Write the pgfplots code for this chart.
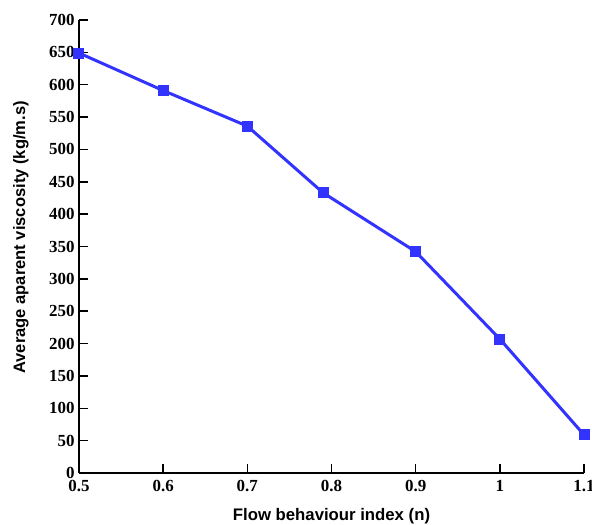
\documentclass[border=0pt]{standalone}
\usepackage{fontspec}
\setmainfont{Liberation Serif}
\newfontfamily\labelfont{Liberation Sans}
\usepackage{pgfplots}
\pgfplotsset{compat=1.18}
\definecolor{lineblue}{RGB}{51,51,255}
\begin{document}
\begin{tikzpicture}
\begin{axis}[
  scale only axis,
  width=505bp, height=453bp,
  xmin=0.5, xmax=1.1, ymin=0, ymax=700,
  axis x line*=bottom, axis y line*=left,
  axis line style={line width=1.8bp, -},
  xtick={0.5,0.6,0.7,0.8,0.9,1,1.1},
  xticklabels={\textbf{0.5},\textbf{0.6},\textbf{0.7},\textbf{0.8},\textbf{0.9},\textbf{1},\textbf{1.1}},
  ytick={0,50,100,150,200,250,300,350,400,450,500,550,600,650,700},
  yticklabels={\textbf{0},\textbf{50},\textbf{100},\textbf{150},\textbf{200},\textbf{250},\textbf{300},\textbf{350},\textbf{400},\textbf{450},\textbf{500},\textbf{550},\textbf{600},\textbf{650},\textbf{700}},
  tick align=inside,
  major tick length=9bp,
  tick style={line width=1.5bp, black},
  tick label style={font=\fontsize{17}{18}\selectfont},
  xticklabel style={anchor=north, yshift=-4bp},
  yticklabel style={anchor=east, xshift=-1bp},
  xlabel={\fontsize{16.8}{18}\selectfont\labelfont\bfseries Flow behaviour index (n)},
  ylabel={\fontsize{16.6}{18}\selectfont\labelfont\bfseries Average aparent viscosity (kg/m.s)},
  xlabel style={at={(axis description cs:0.5,0)}, anchor=base, yshift=-47bp},
  ylabel style={at={(axis description cs:0,0.52)}, anchor=center, yshift=58bp},
  clip=false,
]
\addplot[color=lineblue, line width=3bp, mark=square*, mark size=5bp, mark options={solid, fill=lineblue, line width=0pt}]
coordinates {
(0.5,649) (0.6,591) (0.7,536) (0.79,433) (0.9,342) (1.0,207) (1.1,59)
};
\end{axis}
\pgfresetboundingbox
\path[use as bounding box] (current axis.south west) ++(-79bp,-52bp) rectangle ([shift={(8bp,20bp)}]current axis.north east);
\end{tikzpicture}
\end{document}
